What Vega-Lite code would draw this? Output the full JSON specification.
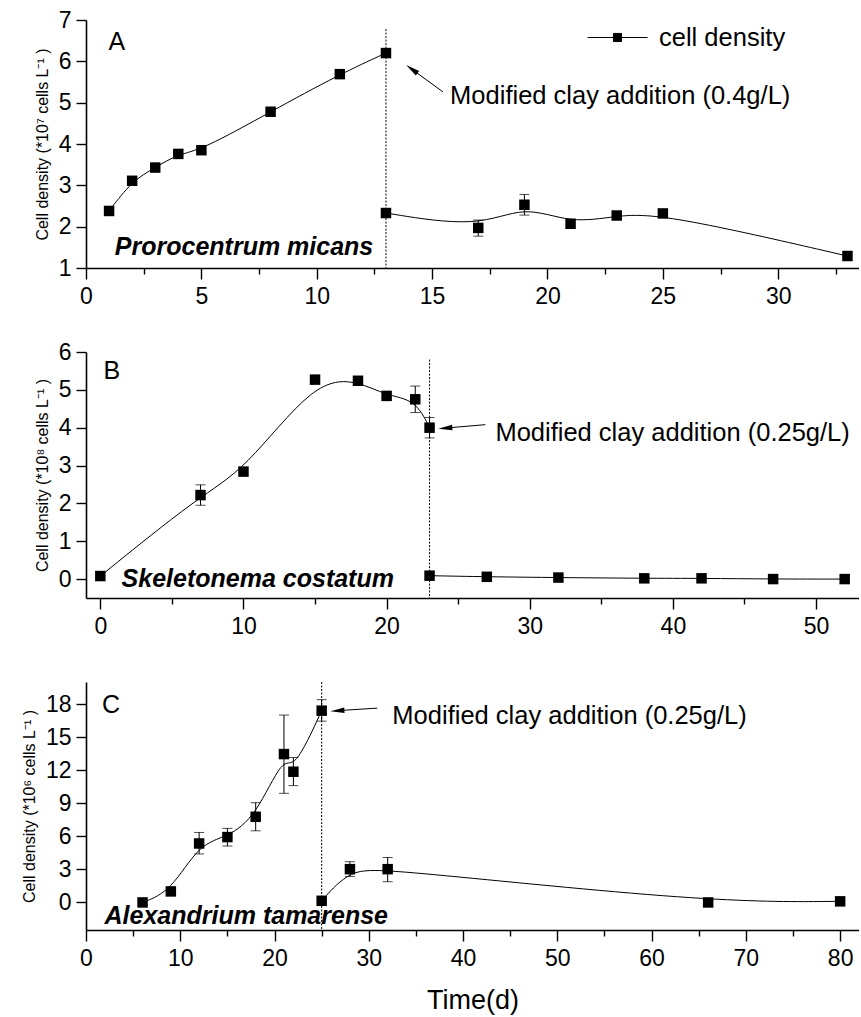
{
  "$schema": "https://vega.github.io/schema/vega-lite/v6.json",
  "padding": {"left": 21, "top": 9, "right": 0, "bottom": 2},
  "background": "white",
  "bounds": "flush",
  "spacing": 84,
  "config": {
    "font": "Liberation Sans",
    "view": {"stroke": null},
    "axis": {
      "grid": false,
      "domainColor": "black",
      "domainWidth": 1.6,
      "tickColor": "black",
      "tickWidth": 1.4,
      "labelColor": "black",
      "labelFontSize": 23,
      "labelFont": "Liberation Sans",
      "titleFont": "Liberation Sans",
      "titleColor": "black",
      "titleFontWeight": "normal",
      "labelFlush": false,
      "labelOverlap": false
    }
  },
  "datasets": {
    "a": [
      {"t": 1, "v": 2.38, "seg": "before"},
      {"t": 2, "v": 3.11, "seg": "before"},
      {"t": 3, "v": 3.43, "seg": "before"},
      {"t": 4, "v": 3.76, "seg": "before"},
      {"t": 5, "v": 3.85, "seg": "before"},
      {"t": 8, "v": 4.78, "seg": "before"},
      {"t": 11, "v": 5.69, "seg": "before"},
      {"t": 13, "v": 6.2, "seg": "before"},
      {"t": 13, "v": 2.33, "seg": "after"},
      {"t": 17, "v": 1.97, "seg": "after", "lo": 1.77, "hi": 2.16},
      {"t": 19, "v": 2.53, "seg": "after", "lo": 2.28, "hi": 2.78},
      {"t": 21, "v": 2.07, "seg": "after"},
      {"t": 23, "v": 2.27, "seg": "after"},
      {"t": 25, "v": 2.32, "seg": "after"},
      {"t": 33, "v": 1.29, "seg": "after"}
    ],
    "b": [
      {"t": 0, "v": 0.08, "seg": "before"},
      {"t": 7, "v": 2.22, "seg": "before", "lo": 1.95, "hi": 2.49},
      {"t": 10, "v": 2.84, "seg": "before"},
      {"t": 15, "v": 5.27, "seg": "before"},
      {"t": 18, "v": 5.24, "seg": "before"},
      {"t": 20, "v": 4.84, "seg": "before"},
      {"t": 22, "v": 4.75, "seg": "before", "lo": 4.4, "hi": 5.1},
      {"t": 23, "v": 4.0, "seg": "before", "lo": 3.73, "hi": 4.27},
      {"t": 23, "v": 0.09, "seg": "after"},
      {"t": 27, "v": 0.06, "seg": "after"},
      {"t": 32, "v": 0.04, "seg": "after"},
      {"t": 38, "v": 0.02, "seg": "after"},
      {"t": 42, "v": 0.02, "seg": "after"},
      {"t": 47, "v": 0.0, "seg": "after"},
      {"t": 52, "v": 0.0, "seg": "after"}
    ],
    "c": [
      {"t": 6, "v": 0.0, "seg": "before"},
      {"t": 9, "v": 1.0, "seg": "before"},
      {"t": 12, "v": 5.35, "seg": "before", "lo": 4.4, "hi": 6.35},
      {"t": 15, "v": 5.93, "seg": "before", "lo": 5.12, "hi": 6.72},
      {"t": 18, "v": 7.77, "seg": "before", "lo": 6.5, "hi": 9.05},
      {"t": 21, "v": 13.46, "seg": "before", "lo": 9.9, "hi": 17.0},
      {"t": 22, "v": 11.86, "seg": "before", "lo": 10.6, "hi": 13.15},
      {"t": 25, "v": 17.4, "seg": "before", "lo": 16.45, "hi": 18.4},
      {"t": 25, "v": 0.15, "seg": "after"},
      {"t": 28, "v": 3.02, "seg": "after", "lo": 2.36, "hi": 3.7},
      {"t": 32, "v": 3.02, "seg": "after", "lo": 1.88, "hi": 4.08},
      {"t": 66, "v": 0.0, "seg": "after"},
      {"t": 80, "v": 0.1, "seg": "after"}
    ]
  },
  "vconcat": [
    {
      "width": 773,
      "height": 248,
      "layer": [
        {
          "data": {"name": "a"},
          "mark": {"type": "line", "interpolate": "basis", "strokeWidth": 1},
          "encoding": {
            "x": {"field": "t", "type": "quantitative", "scale": {"domain": [0, 33.5], "nice": false, "zero": false},
              "axis": {"title": null, "values": [0, 2.5, 5, 7.5, 10, 12.5, 15, 17.5, 20, 22.5, 25, 27.5, 30, 32.5],
                "labelExpr": "datum.value % 5 === 0 ? datum.label : ''",
                "tickSize": {"condition": {"test": "datum.value % 5 === 0", "value": 11}, "value": 6},
                "labelPadding": 6}},
            "y": {"field": "v", "type": "quantitative", "scale": {"domain": [1, 7], "nice": false, "zero": false},
              "axis": {"title": "Cell density (*10⁷ cells L⁻¹ )", "titleFontSize": 16, "titlePadding": 8,
                "values": [1, 1.5, 2, 2.5, 3, 3.5, 4, 4.5, 5, 5.5, 6, 6.5, 7],
                "labelExpr": "datum.value % 1 === 0 ? datum.label : ''",
                "tickSize": {"condition": {"test": "datum.value % 1 === 0", "value": 10}, "value": 5},
                "labelPadding": 5}},
            "detail": {"field": "seg"},
            "color": {"datum": "cell density", "type": "nominal", "scale": {"range": ["black"]},
              "legend": {"orient": "none", "legendX": 516, "legendY": 2, "title": null,
                "symbolType": "M-2,0H2M-0.27,-0.27H0.27V0.27H-0.27Z", "symbolSize": 900,
                "symbolStrokeWidth": 1, "symbolFillColor": "black", "symbolStrokeColor": "black",
                "labelFontSize": 25.5, "labelOffset": 26, "labelColor": "black", "labelFont": "Liberation Sans",
                "encode": {"symbols": {"update": {"fill": {"value": "black"}, "stroke": {"value": "black"}, "strokeWidth": {"value": 1}, "opacity": {"value": 1}}}}}}
          }
        },
        {
          "data": {"name": "a"},
          "transform": [{"filter": "isValid(datum.lo)"}],
          "mark": {"type": "errorbar", "color": "black", "ticks": {"size": 10, "color": "black", "thickness": 1}, "rule": {"strokeWidth": 1}},
          "encoding": {
            "x": {"field": "t", "type": "quantitative", "scale": {"domain": [0, 33.5], "nice": false, "zero": false}},
            "y": {"field": "lo", "type": "quantitative", "title": "Cell density (*10⁷ cells L⁻¹ )", "scale": {"domain": [1, 7], "nice": false, "zero": false}},
            "y2": {"field": "hi"}
          }
        },
        {
          "data": {"name": "a"},
          "mark": {"type": "square", "size": 110, "color": "black", "filled": true, "opacity": 1},
          "encoding": {
            "x": {"field": "t", "type": "quantitative", "scale": {"domain": [0, 33.5], "nice": false, "zero": false}},
            "y": {"field": "v", "type": "quantitative", "scale": {"domain": [1, 7], "nice": false, "zero": false}}
          }
        },
        {
          "data": {"values": [{"t": 13, "top": 6.78, "bottom": 1}]},
          "mark": {"type": "rule", "strokeDash": [2, 1.5], "strokeWidth": 1, "color": "black"},
          "encoding": {
            "x": {"field": "t", "type": "quantitative", "scale": {"domain": [0, 33.5], "nice": false, "zero": false}},
            "y": {"field": "top", "type": "quantitative", "scale": {"domain": [1, 7], "nice": false, "zero": false}},
            "y2": {"field": "bottom"}
          }
        },
        {
          "data": {"values": [{"t": 15.47, "v": 5.26, "t2": 14.12, "v2": 5.81}]},
          "mark": {"type": "rule", "strokeWidth": 1, "color": "black"},
          "encoding": {
            "x": {"field": "t", "type": "quantitative", "scale": {"domain": [0, 33.5], "nice": false, "zero": false}},
            "y": {"field": "v", "type": "quantitative", "scale": {"domain": [1, 7], "nice": false, "zero": false}},
            "x2": {"field": "t2"},
            "y2": {"field": "v2"}
          }
        },
        {
          "data": {"values": [{"t": 14.12, "v": 5.81}]},
          "mark": {"type": "point", "shape": "M0,-1L0.4,1L-0.4,1Z", "size": 196, "filled": true, "color": "black", "opacity": 1, "angle": 306},
          "encoding": {
            "x": {"field": "t", "type": "quantitative", "scale": {"domain": [0, 33.5], "nice": false, "zero": false}},
            "y": {"field": "v", "type": "quantitative", "scale": {"domain": [1, 7], "nice": false, "zero": false}}
          }
        },
        {
          "data": {"values": [{"t": 15.78, "v": 5.16, "label": "Modified clay addition (0.4g/L)"}]},
          "mark": {"type": "text", "align": "left", "baseline": "middle", "fontSize": 25.5, "color": "black"},
          "encoding": {
            "x": {"field": "t", "type": "quantitative", "scale": {"domain": [0, 33.5], "nice": false, "zero": false}},
            "y": {"field": "v", "type": "quantitative", "scale": {"domain": [1, 7], "nice": false, "zero": false}},
            "text": {"field": "label"}
          }
        },
        {
          "data": {"values": [{"t": 1.34, "v": 6.47, "label": "A"}]},
          "mark": {"type": "text", "align": "center", "baseline": "middle", "fontSize": 25, "color": "black"},
          "encoding": {
            "x": {"field": "t", "type": "quantitative", "scale": {"domain": [0, 33.5], "nice": false, "zero": false}},
            "y": {"field": "v", "type": "quantitative", "scale": {"domain": [1, 7], "nice": false, "zero": false}},
            "text": {"field": "label"}
          }
        },
        {
          "data": {"values": [{"t": 6.85, "v": 1.51, "label": "Prorocentrum micans"}]},
          "mark": {"type": "text", "align": "center", "baseline": "middle", "fontSize": 25, "fontWeight": "bold", "fontStyle": "italic", "color": "black"},
          "encoding": {
            "x": {"field": "t", "type": "quantitative", "scale": {"domain": [0, 33.5], "nice": false, "zero": false}},
            "y": {"field": "v", "type": "quantitative", "scale": {"domain": [1, 7], "nice": false, "zero": false}},
            "text": {"field": "label"}
          }
        }
      ]
    },
    {
      "width": 773,
      "height": 246,
      "layer": [
        {
          "data": {"name": "b"},
          "mark": {"type": "line", "interpolate": "basis", "strokeWidth": 1, "color": "black"},
          "encoding": {
            "x": {"field": "t", "type": "quantitative", "scale": {"domain": [-1, 53], "nice": false, "zero": false},
              "axis": {"title": null, "values": [0, 5, 10, 15, 20, 25, 30, 35, 40, 45, 50],
                "labelExpr": "datum.value % 10 === 0 ? datum.label : ''",
                "tickSize": {"condition": {"test": "datum.value % 10 === 0", "value": 11}, "value": 6},
                "labelPadding": 6}},
            "y": {"field": "v", "type": "quantitative", "scale": {"domain": [-0.5, 6], "nice": false, "zero": false},
              "axis": {"title": "Cell density (*10⁸ cells L⁻¹ )", "titleFontSize": 16, "titlePadding": 8,
                "values": [0, 0.5, 1, 1.5, 2, 2.5, 3, 3.5, 4, 4.5, 5, 5.5, 6],
                "labelExpr": "datum.value % 1 === 0 ? datum.label : ''",
                "tickSize": {"condition": {"test": "datum.value % 1 === 0", "value": 10}, "value": 5},
                "labelPadding": 5}},
            "detail": {"field": "seg"}
          }
        },
        {
          "data": {"name": "b"},
          "transform": [{"filter": "isValid(datum.lo)"}],
          "mark": {"type": "errorbar", "color": "black", "ticks": {"size": 10, "color": "black", "thickness": 1}, "rule": {"strokeWidth": 1}},
          "encoding": {
            "x": {"field": "t", "type": "quantitative", "scale": {"domain": [-1, 53], "nice": false, "zero": false}},
            "y": {"field": "lo", "type": "quantitative", "title": "Cell density (*10⁸ cells L⁻¹ )", "scale": {"domain": [-0.5, 6], "nice": false, "zero": false}},
            "y2": {"field": "hi"}
          }
        },
        {
          "data": {"name": "b"},
          "mark": {"type": "square", "size": 110, "color": "black", "filled": true, "opacity": 1},
          "encoding": {
            "x": {"field": "t", "type": "quantitative", "scale": {"domain": [-1, 53], "nice": false, "zero": false}},
            "y": {"field": "v", "type": "quantitative", "scale": {"domain": [-0.5, 6], "nice": false, "zero": false}}
          }
        },
        {
          "data": {"values": [{"t": 23, "top": 5.8, "bottom": -0.5}]},
          "mark": {"type": "rule", "strokeDash": [2, 1.5], "strokeWidth": 1, "color": "black"},
          "encoding": {
            "x": {"field": "t", "type": "quantitative", "scale": {"domain": [-1, 53], "nice": false, "zero": false}},
            "y": {"field": "top", "type": "quantitative", "scale": {"domain": [-0.5, 6], "nice": false, "zero": false}},
            "y2": {"field": "bottom"}
          }
        },
        {
          "data": {"values": [{"t": 26.9, "v": 4.08, "t2": 24.1, "v2": 3.99}]},
          "mark": {"type": "rule", "strokeWidth": 1, "color": "black"},
          "encoding": {
            "x": {"field": "t", "type": "quantitative", "scale": {"domain": [-1, 53], "nice": false, "zero": false}},
            "y": {"field": "v", "type": "quantitative", "scale": {"domain": [-0.5, 6], "nice": false, "zero": false}},
            "x2": {"field": "t2"},
            "y2": {"field": "v2"}
          }
        },
        {
          "data": {"values": [{"t": 24.1, "v": 3.99}]},
          "mark": {"type": "point", "shape": "M0,-1L0.4,1L-0.4,1Z", "size": 196, "filled": true, "color": "black", "opacity": 1, "angle": 265},
          "encoding": {
            "x": {"field": "t", "type": "quantitative", "scale": {"domain": [-1, 53], "nice": false, "zero": false}},
            "y": {"field": "v", "type": "quantitative", "scale": {"domain": [-0.5, 6], "nice": false, "zero": false}}
          }
        },
        {
          "data": {"values": [{"t": 27.6, "v": 3.87, "label": "Modified clay addition (0.25g/L)"}]},
          "mark": {"type": "text", "align": "left", "baseline": "middle", "fontSize": 25.5, "color": "black"},
          "encoding": {
            "x": {"field": "t", "type": "quantitative", "scale": {"domain": [-1, 53], "nice": false, "zero": false}},
            "y": {"field": "v", "type": "quantitative", "scale": {"domain": [-0.5, 6], "nice": false, "zero": false}},
            "text": {"field": "label"}
          }
        },
        {
          "data": {"values": [{"t": 0.8, "v": 5.51, "label": "B"}]},
          "mark": {"type": "text", "align": "center", "baseline": "middle", "fontSize": 25, "color": "black"},
          "encoding": {
            "x": {"field": "t", "type": "quantitative", "scale": {"domain": [-1, 53], "nice": false, "zero": false}},
            "y": {"field": "v", "type": "quantitative", "scale": {"domain": [-0.5, 6], "nice": false, "zero": false}},
            "text": {"field": "label"}
          }
        },
        {
          "data": {"values": [{"t": 11.0, "v": 0.0, "label": "Skeletonema costatum"}]},
          "mark": {"type": "text", "align": "center", "baseline": "middle", "fontSize": 25, "fontWeight": "bold", "fontStyle": "italic", "color": "black"},
          "encoding": {
            "x": {"field": "t", "type": "quantitative", "scale": {"domain": [-1, 53], "nice": false, "zero": false}},
            "y": {"field": "v", "type": "quantitative", "scale": {"domain": [-0.5, 6], "nice": false, "zero": false}},
            "text": {"field": "label"}
          }
        }
      ]
    },
    {
      "width": 773,
      "height": 248,
      "layer": [
        {
          "data": {"name": "c"},
          "mark": {"type": "line", "interpolate": "basis", "strokeWidth": 1, "color": "black"},
          "encoding": {
            "x": {"field": "t", "type": "quantitative", "scale": {"domain": [0, 82], "nice": false, "zero": false},
              "axis": {"title": "Time(d)", "titleFontSize": 27, "titlePadding": 17, "values": [0, 5, 10, 15, 20, 25, 30, 35, 40, 45, 50, 55, 60, 65, 70, 75, 80],
                "labelExpr": "datum.value % 10 === 0 ? datum.label : ''",
                "tickSize": {"condition": {"test": "datum.value % 10 === 0", "value": 11}, "value": 6},
                "labelPadding": 6}},
            "y": {"field": "v", "type": "quantitative", "scale": {"domain": [-2.5, 20], "nice": false, "zero": false},
              "axis": {"title": "Cell density (*10⁶ cells L⁻¹ )", "titleFontSize": 16, "titlePadding": 8,
                "values": [0, 1.5, 3, 4.5, 6, 7.5, 9, 10.5, 12, 13.5, 15, 16.5, 18, 19.5],
                "labelExpr": "datum.value % 3 === 0 ? datum.label : ''",
                "tickSize": {"condition": {"test": "datum.value % 3 === 0", "value": 10}, "value": 5},
                "labelPadding": 5}},
            "detail": {"field": "seg"}
          }
        },
        {
          "data": {"name": "c"},
          "transform": [{"filter": "isValid(datum.lo)"}],
          "mark": {"type": "errorbar", "color": "black", "ticks": {"size": 10, "color": "black", "thickness": 1}, "rule": {"strokeWidth": 1}},
          "encoding": {
            "x": {"field": "t", "type": "quantitative", "scale": {"domain": [0, 82], "nice": false, "zero": false}},
            "y": {"field": "lo", "type": "quantitative", "title": "Cell density (*10⁶ cells L⁻¹ )", "scale": {"domain": [-2.5, 20], "nice": false, "zero": false}},
            "y2": {"field": "hi"}
          }
        },
        {
          "data": {"name": "c"},
          "mark": {"type": "square", "size": 110, "color": "black", "filled": true, "opacity": 1},
          "encoding": {
            "x": {"field": "t", "type": "quantitative", "scale": {"domain": [0, 82], "nice": false, "zero": false}},
            "y": {"field": "v", "type": "quantitative", "scale": {"domain": [-2.5, 20], "nice": false, "zero": false}}
          }
        },
        {
          "data": {"values": [{"t": 25, "top": 20, "bottom": -2.5}]},
          "mark": {"type": "rule", "strokeDash": [2, 1.5], "strokeWidth": 1, "color": "black"},
          "encoding": {
            "x": {"field": "t", "type": "quantitative", "scale": {"domain": [0, 82], "nice": false, "zero": false}},
            "y": {"field": "top", "type": "quantitative", "scale": {"domain": [-2.5, 20], "nice": false, "zero": false}},
            "y2": {"field": "bottom"}
          }
        },
        {
          "data": {"values": [{"t": 30.9, "v": 17.63, "t2": 26.67, "v2": 17.4}]},
          "mark": {"type": "rule", "strokeWidth": 1, "color": "black"},
          "encoding": {
            "x": {"field": "t", "type": "quantitative", "scale": {"domain": [0, 82], "nice": false, "zero": false}},
            "y": {"field": "v", "type": "quantitative", "scale": {"domain": [-2.5, 20], "nice": false, "zero": false}},
            "x2": {"field": "t2"},
            "y2": {"field": "v2"}
          }
        },
        {
          "data": {"values": [{"t": 26.67, "v": 17.4}]},
          "mark": {"type": "point", "shape": "M0,-1L0.4,1L-0.4,1Z", "size": 196, "filled": true, "color": "black", "opacity": 1, "angle": 266},
          "encoding": {
            "x": {"field": "t", "type": "quantitative", "scale": {"domain": [0, 82], "nice": false, "zero": false}},
            "y": {"field": "v", "type": "quantitative", "scale": {"domain": [-2.5, 20], "nice": false, "zero": false}}
          }
        },
        {
          "data": {"values": [{"t": 32.5, "v": 16.9, "label": "Modified clay addition (0.25g/L)"}]},
          "mark": {"type": "text", "align": "left", "baseline": "middle", "fontSize": 25.5, "color": "black"},
          "encoding": {
            "x": {"field": "t", "type": "quantitative", "scale": {"domain": [0, 82], "nice": false, "zero": false}},
            "y": {"field": "v", "type": "quantitative", "scale": {"domain": [-2.5, 20], "nice": false, "zero": false}},
            "text": {"field": "label"}
          }
        },
        {
          "data": {"values": [{"t": 2.65, "v": 17.9, "label": "C"}]},
          "mark": {"type": "text", "align": "center", "baseline": "middle", "fontSize": 25, "color": "black"},
          "encoding": {
            "x": {"field": "t", "type": "quantitative", "scale": {"domain": [0, 82], "nice": false, "zero": false}},
            "y": {"field": "v", "type": "quantitative", "scale": {"domain": [-2.5, 20], "nice": false, "zero": false}},
            "text": {"field": "label"}
          }
        },
        {
          "data": {"values": [{"t": 17.0, "v": -1.24, "label": "Alexandrium tamarense"}]},
          "mark": {"type": "text", "align": "center", "baseline": "middle", "fontSize": 25, "fontWeight": "bold", "fontStyle": "italic", "color": "black"},
          "encoding": {
            "x": {"field": "t", "type": "quantitative", "scale": {"domain": [0, 82], "nice": false, "zero": false}},
            "y": {"field": "v", "type": "quantitative", "scale": {"domain": [-2.5, 20], "nice": false, "zero": false}},
            "text": {"field": "label"}
          }
        }
      ]
    }
  ]
}
